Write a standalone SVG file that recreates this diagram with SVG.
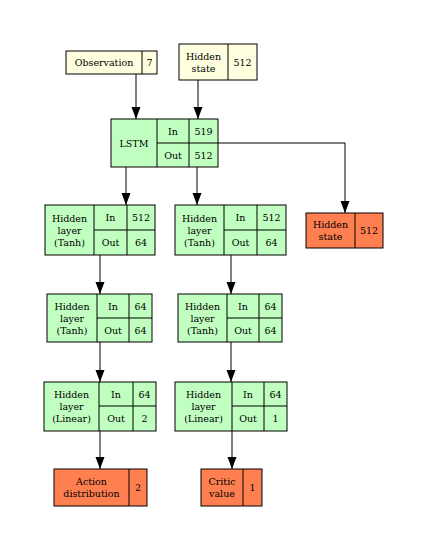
<svg xmlns="http://www.w3.org/2000/svg" width="428" height="550" viewBox="0 0 428 550">
<style>
rect,line.d{stroke:#000;stroke-width:1}
.y{fill:#FFFFE0}.g{fill:#C1FFC1}.o{fill:#FF7F50}
text{font-family:"DejaVu Serif","Liberation Serif",serif;font-size:9.5px;fill:#000;text-anchor:middle}
.c path,.c polyline{stroke:#000;stroke-width:1;fill:none}
</style>
<defs>
<marker id="a" viewBox="0 0 12 10" refX="12" refY="5" markerWidth="12" markerHeight="10" markerUnits="userSpaceOnUse" orient="auto">
<path d="M0,0.5L12,5L0,9.5z" fill="#000"/>
</marker>
</defs>
<rect width="428" height="550" fill="#fff" style="stroke:none"/>
<g class="c" id="connectors">
<path d="M136,74V119" marker-end="url(#a)"/>
<path d="M198,80V119" marker-end="url(#a)"/>
<path d="M126,167V205" marker-end="url(#a)"/>
<path d="M197,167V205" marker-end="url(#a)"/>
<path d="M218,143H345V213" marker-end="url(#a)"/>
<path d="M100,255V294" marker-end="url(#a)"/>
<path d="M231,255V294" marker-end="url(#a)"/>
<path d="M100,342V382" marker-end="url(#a)"/>
<path d="M231,342V382" marker-end="url(#a)"/>
<path d="M100,431V469" marker-end="url(#a)"/>
<path d="M232,431V469" marker-end="url(#a)"/>
</g>
<g id="obs">
<rect class="y" x="66" y="51" width="91" height="23"/>
<line class="d" x1="142" y1="51" x2="142" y2="74"/>
<text x="104" y="66">Observation</text><text x="149.5" y="66">7</text>
</g>
<g id="hin">
<rect class="y" x="179" y="44" width="78" height="36"/>
<line class="d" x1="228" y1="44" x2="228" y2="80"/>
<text x="203.5" y="59.5">Hidden</text><text x="203.5" y="71.5">state</text><text x="242.5" y="65.5">512</text>
</g>
<g id="lstm">
<rect class="g" x="111" y="119" width="107" height="48"/>
<line class="d" x1="157" y1="119" x2="157" y2="167"/>
<line class="d" x1="189" y1="119" x2="189" y2="167"/>
<line class="d" x1="157" y1="143" x2="218" y2="143"/>
<text x="134" y="146.5">LSTM</text>
<text x="173" y="134.5">In</text><text x="203.5" y="134.5">519</text>
<text x="173" y="158.5">Out</text><text x="203.5" y="158.5">512</text>
</g>
<g id="hout">
<rect class="o" x="306" y="213" width="77" height="35"/>
<line class="d" x1="355" y1="213" x2="355" y2="248"/>
<text x="330.5" y="227.5">Hidden</text><text x="330.5" y="239.5">state</text><text x="369" y="234">512</text>
</g>
<g id="a1">
<rect class="g" x="45" y="205" width="110" height="50"/>
<line class="d" x1="94" y1="205" x2="94" y2="255"/>
<line class="d" x1="127" y1="205" x2="127" y2="255"/>
<line class="d" x1="94" y1="230" x2="155" y2="230"/>
<text x="69.5" y="221.5">Hidden</text><text x="69.5" y="233.5">layer</text><text x="69.5" y="245.5">(Tanh)</text>
<text x="110.5" y="221">In</text><text x="141" y="221">512</text>
<text x="110.5" y="246">Out</text><text x="141" y="246">64</text>
</g>
<g id="c1">
<rect class="g" x="175" y="205" width="111" height="50"/>
<line class="d" x1="224" y1="205" x2="224" y2="255"/>
<line class="d" x1="257" y1="205" x2="257" y2="255"/>
<line class="d" x1="224" y1="230" x2="286" y2="230"/>
<text x="199.5" y="221.5">Hidden</text><text x="199.5" y="233.5">layer</text><text x="199.5" y="245.5">(Tanh)</text>
<text x="240.5" y="221">In</text><text x="271.5" y="221">512</text>
<text x="240.5" y="246">Out</text><text x="271.5" y="246">64</text>
</g>
<g id="a2">
<rect class="g" x="47" y="294" width="105" height="48"/>
<line class="d" x1="97" y1="294" x2="97" y2="342"/>
<line class="d" x1="129" y1="294" x2="129" y2="342"/>
<line class="d" x1="97" y1="318" x2="152" y2="318"/>
<text x="72" y="309.5">Hidden</text><text x="72" y="321.5">layer</text><text x="72" y="333.5">(Tanh)</text>
<text x="113" y="309.5">In</text><text x="140.5" y="309.5">64</text>
<text x="113" y="333.5">Out</text><text x="140.5" y="333.5">64</text>
</g>
<g id="c2">
<rect class="g" x="178" y="294" width="104" height="48"/>
<line class="d" x1="227" y1="294" x2="227" y2="342"/>
<line class="d" x1="259" y1="294" x2="259" y2="342"/>
<line class="d" x1="227" y1="318" x2="282" y2="318"/>
<text x="202.5" y="309.5">Hidden</text><text x="202.5" y="321.5">layer</text><text x="202.5" y="333.5">(Tanh)</text>
<text x="243" y="309.5">In</text><text x="270.5" y="309.5">64</text>
<text x="243" y="333.5">Out</text><text x="270.5" y="333.5">64</text>
</g>
<g id="a3">
<rect class="g" x="44" y="382" width="112" height="49"/>
<line class="d" x1="99" y1="382" x2="99" y2="431"/>
<line class="d" x1="133" y1="382" x2="133" y2="431"/>
<line class="d" x1="99" y1="406" x2="156" y2="406"/>
<text x="71.5" y="398">Hidden</text><text x="71.5" y="410">layer</text><text x="71.5" y="422">(Linear)</text>
<text x="116" y="397.5">In</text><text x="144.5" y="397.5">64</text>
<text x="116" y="422">Out</text><text x="144.5" y="422">2</text>
</g>
<g id="c3">
<rect class="g" x="175" y="382" width="112" height="49"/>
<line class="d" x1="232" y1="382" x2="232" y2="431"/>
<line class="d" x1="264" y1="382" x2="264" y2="431"/>
<line class="d" x1="232" y1="406" x2="287" y2="406"/>
<text x="203.5" y="398">Hidden</text><text x="203.5" y="410">layer</text><text x="203.5" y="422">(Linear)</text>
<text x="248" y="397.5">In</text><text x="275.5" y="397.5">64</text>
<text x="248" y="422">Out</text><text x="275.5" y="422">1</text>
</g>
<g id="act">
<rect class="o" x="54" y="469" width="93" height="37"/>
<line class="d" x1="129" y1="469" x2="129" y2="506"/>
<text x="91.5" y="484.5">Action</text><text x="91.5" y="496.5">distribution</text><text x="138" y="490.5">2</text>
</g>
<g id="crit">
<rect class="o" x="201" y="469" width="61" height="37"/>
<line class="d" x1="243" y1="469" x2="243" y2="506"/>
<text x="222" y="484.5">Critic</text><text x="222" y="496.5">value</text><text x="252.5" y="490.5">1</text>
</g>
</svg>
